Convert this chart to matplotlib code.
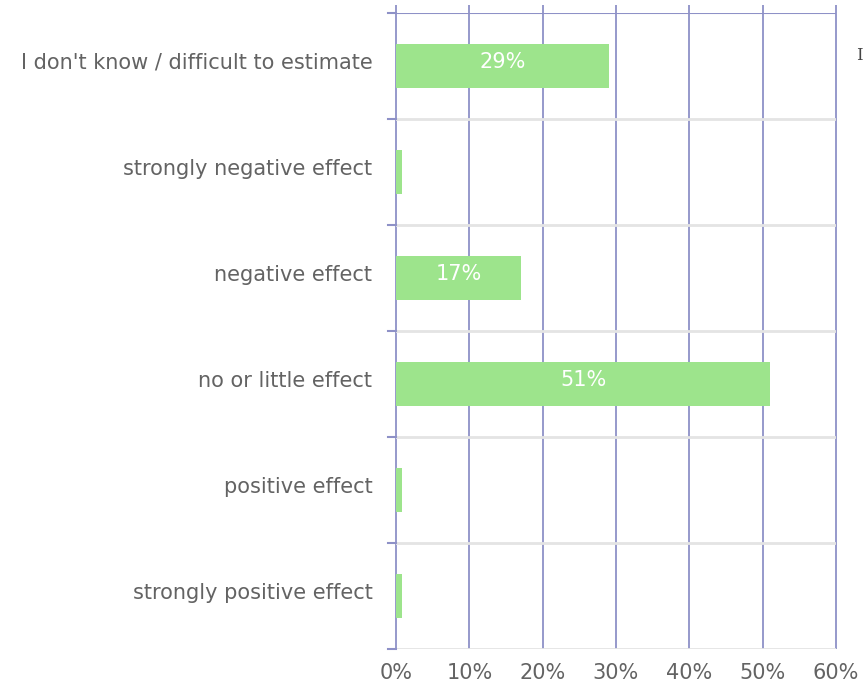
import matplotlib
matplotlib.use("Agg")
import matplotlib.pyplot as plt
import matplotlib.transforms as mtransforms
import numpy as np

# 数据
categories = [
    "I don't know / difficult to estimate",
    "strongly negative effect",
    "negative effect",
    "no or little effect",
    "positive effect",
    "strongly positive effect",
]
values = [29, 0.8, 17, 51, 0.8, 0.8]
bar_labels = ["29%", "", "17%", "51%", "", ""]
xticks = [0, 10, 20, 30, 40, 50, 60]
xtick_labels = ["0%", "10%", "20%", "30%", "40%", "50%", "60%"]

bar_color = "#9de48c"
grid_color = "#8e91c7"
sep_color = "#e4e4e4"
text_color = "#636363"

plt.rcParams["font.family"] = ["DejaVu Sans"]

fig = plt.figure(figsize=(8.63, 6.87), dpi=100)
ax = fig.add_axes([396 / 863, 1 - 649 / 687, 440 / 863, 636 / 687])

y = np.arange(len(categories))
ax.set_ylim(len(categories) - 0.5, -0.5)
ax.set_xlim(0, 60)

# 竖向网格线（略超出顶部）
ax.vlines(xticks, 0, 1.013, transform=ax.get_xaxis_transform(),
          color=grid_color, lw=1.3, clip_on=False, zorder=1)

# 分隔横线
bounds = np.arange(len(categories) + 1) - 0.5
for b in bounds[1:]:
    ax.axhline(b, color=sep_color, lw=2, zorder=1)
ax.axhline(bounds[0], color=grid_color, lw=1.5, zorder=2)

# 左侧刻度
for b in bounds:
    ax.plot([-1.1, 0], [b, b], color=grid_color, lw=1.5, clip_on=False, zorder=2)

bars = ax.barh(y, values, height=0.41, color=bar_color, zorder=3)

for rect, lab in zip(bars, bar_labels):
    if lab:
        ax.text(rect.get_x() + rect.get_width() / 2,
                rect.get_y() + rect.get_height() / 2 - 0.04, lab,
                ha="center", va="center", color="white", fontsize=15, zorder=4)

ax.set_yticks(y)
ax.set_yticklabels(categories, fontsize=15, color=text_color)
ax.set_xticks(xticks)
ax.set_xticklabels(xtick_labels, fontsize=15, color=text_color)
ax.tick_params(axis="y", length=0, pad=17)
ax.tick_params(axis="x", length=0, pad=10)

# 标签略向上
shift = mtransforms.ScaledTranslation(0, 5 / 100, fig.dpi_scale_trans)
for t in ax.get_yticklabels():
    t.set_transform(t.get_transform() + shift)

for s in ax.spines.values():
    s.set_visible(False)

# 右上角被截断的文字
fig.text(856 / 863, 1 - 55 / 687, "I", fontsize=12, color="#444444",
         family="DejaVu Serif", ha="left", va="center")

fig.savefig("out.png", dpi=100)
